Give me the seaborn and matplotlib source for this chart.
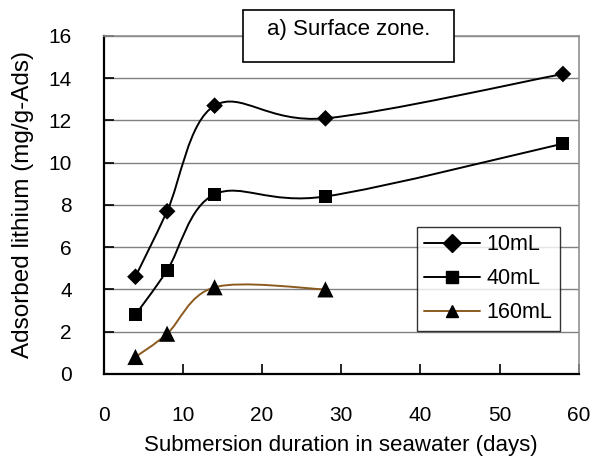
import matplotlib
matplotlib.use("Agg")
import matplotlib.pyplot as plt
import seaborn as sns
import numpy as np
import pandas as pd
from matplotlib.path import Path
from matplotlib.patches import PathPatch, Rectangle
from matplotlib.lines import Line2D

sns.set_theme(style="white")
plt.rcParams['font.family'] = ['Liberation Sans', 'DejaVu Sans']
plt.rcParams.update({'text.color': 'black', 'axes.labelcolor': 'black',
                     'xtick.color': 'black', 'ytick.color': 'black'})

# data
days_10 = [4, 8, 14, 28, 58]
li_10 = [4.6, 7.7, 12.7, 12.1, 14.2]
days_40 = [4, 8, 14, 28, 58]
li_40 = [2.8, 4.9, 8.5, 8.4, 10.9]
days_160 = [4, 8, 14, 28]
li_160 = [0.8, 1.9, 4.1, 4.0]
series_names = ['10mL', '40mL', '160mL']
series_markers = {'10mL': 'D', '40mL': 's', '160mL': '^'}
series_sizes = {'10mL': 72, '40mL': 88, '160mL': 135}
series_colors = {'10mL': 'black', '40mL': 'black', '160mL': '#8c5a1e'}

df = pd.DataFrame({
    'days': days_10 + days_40 + days_160,
    'li': li_10 + li_40 + li_160,
    'volume': ['10mL'] * len(days_10) + ['40mL'] * len(days_40) + ['160mL'] * len(days_160),
})

fig = plt.figure(figsize=(5.93, 4.61), dpi=100)
ax = fig.add_axes([0.175, 0.189, 0.801, 0.733])
ax.set_xlim(0, 60)
ax.set_ylim(0, 16)


def smooth_path(xs, ys, ax):
    # Excel-like smoothed line: cubic Bezier with Catmull-Rom tangents in screen space
    bb = ax.get_position()
    fw, fh = ax.figure.get_size_inches() * ax.figure.dpi
    x0, x1 = ax.get_xlim()
    y0, y1 = ax.get_ylim()
    kx = bb.width * fw / (x1 - x0)
    ky = bb.height * fh / (y1 - y0)
    p = np.column_stack([np.asarray(xs, float) * kx, np.asarray(ys, float) * ky])
    n = len(p)
    verts = [p[0]]
    codes = [Path.MOVETO]
    for i in range(n - 1):
        pm = p[i - 1] if i > 0 else p[i]
        pp = p[i + 2] if i + 2 < n else p[i + 1]
        c1 = p[i] + (p[i + 1] - pm) / 6
        c2 = p[i + 1] - (pp - p[i]) / 6
        verts += [c1, c2, p[i + 1]]
        codes += [Path.CURVE4] * 3
    verts = np.array(verts) / [kx, ky]
    return Path(verts, codes)


for name in series_names:
    sub = df[df['volume'] == name]
    patch = PathPatch(smooth_path(sub['days'], sub['li'], ax), facecolor='none',
                      edgecolor=series_colors[name], lw=1.4, zorder=3)
    ax.add_patch(patch)

sns.scatterplot(data=df, x='days', y='li', style='volume', markers=series_markers,
                hue='volume', palette={n: 'black' for n in series_names},
                size='volume', sizes=series_sizes,
                edgecolor='black', linewidth=0, legend=False, ax=ax, zorder=4)

# axes styling
ax.set_xticks(np.arange(0, 61, 10))
ax.set_yticks(np.arange(0, 17, 2))
ax.grid(axis='y', color='#808080', lw=1.0)
ax.grid(axis='x', visible=False)
for s in ['left', 'bottom']:
    ax.spines[s].set_color('black')
    ax.spines[s].set_linewidth(1.6)
for s in ['top', 'right']:
    ax.spines[s].set_color('#909090')
    ax.spines[s].set_linewidth(1.2)
ax.tick_params(direction='in', length=7, width=1.2, color='black', labelcolor='black',
               labelsize=15, pad=23, bottom=True, left=True)
ax.set_xlabel('Submersion duration in seawater (days)', fontsize=16, labelpad=7)
ax.set_ylabel('Adsorbed lithium (mg/g-Ads)', fontsize=17.5, labelpad=0)
ax.yaxis.set_label_coords(-0.146, 0.5)

# title box
ax.add_patch(Rectangle((0.293, 0.923), 0.444, 0.154, transform=ax.transAxes,
                       facecolor='white', edgecolor='black', lw=1.2, clip_on=False, zorder=5))
ax.text(0.515, 1.02, 'a) Surface zone.', transform=ax.transAxes, ha='center', va='center',
        fontsize=16, zorder=6)

handles = [Line2D([0], [0], color=series_colors[n], marker=series_markers[n], markersize=9,
                  markerfacecolor='black', markeredgecolor='black', lw=1.4) for n in series_names]
leg = ax.legend(handles, series_names, loc='upper left', bbox_to_anchor=(0.659, 0.435),
                fontsize=15.5, frameon=True, fancybox=False, edgecolor='black',
                handlelength=2.6, borderpad=0.35, labelspacing=0.6, handletextpad=0.3,
                borderaxespad=0)
leg.get_frame().set_linewidth(1.0)
leg.set_zorder(7)

fig.savefig('out.png', dpi=100)
